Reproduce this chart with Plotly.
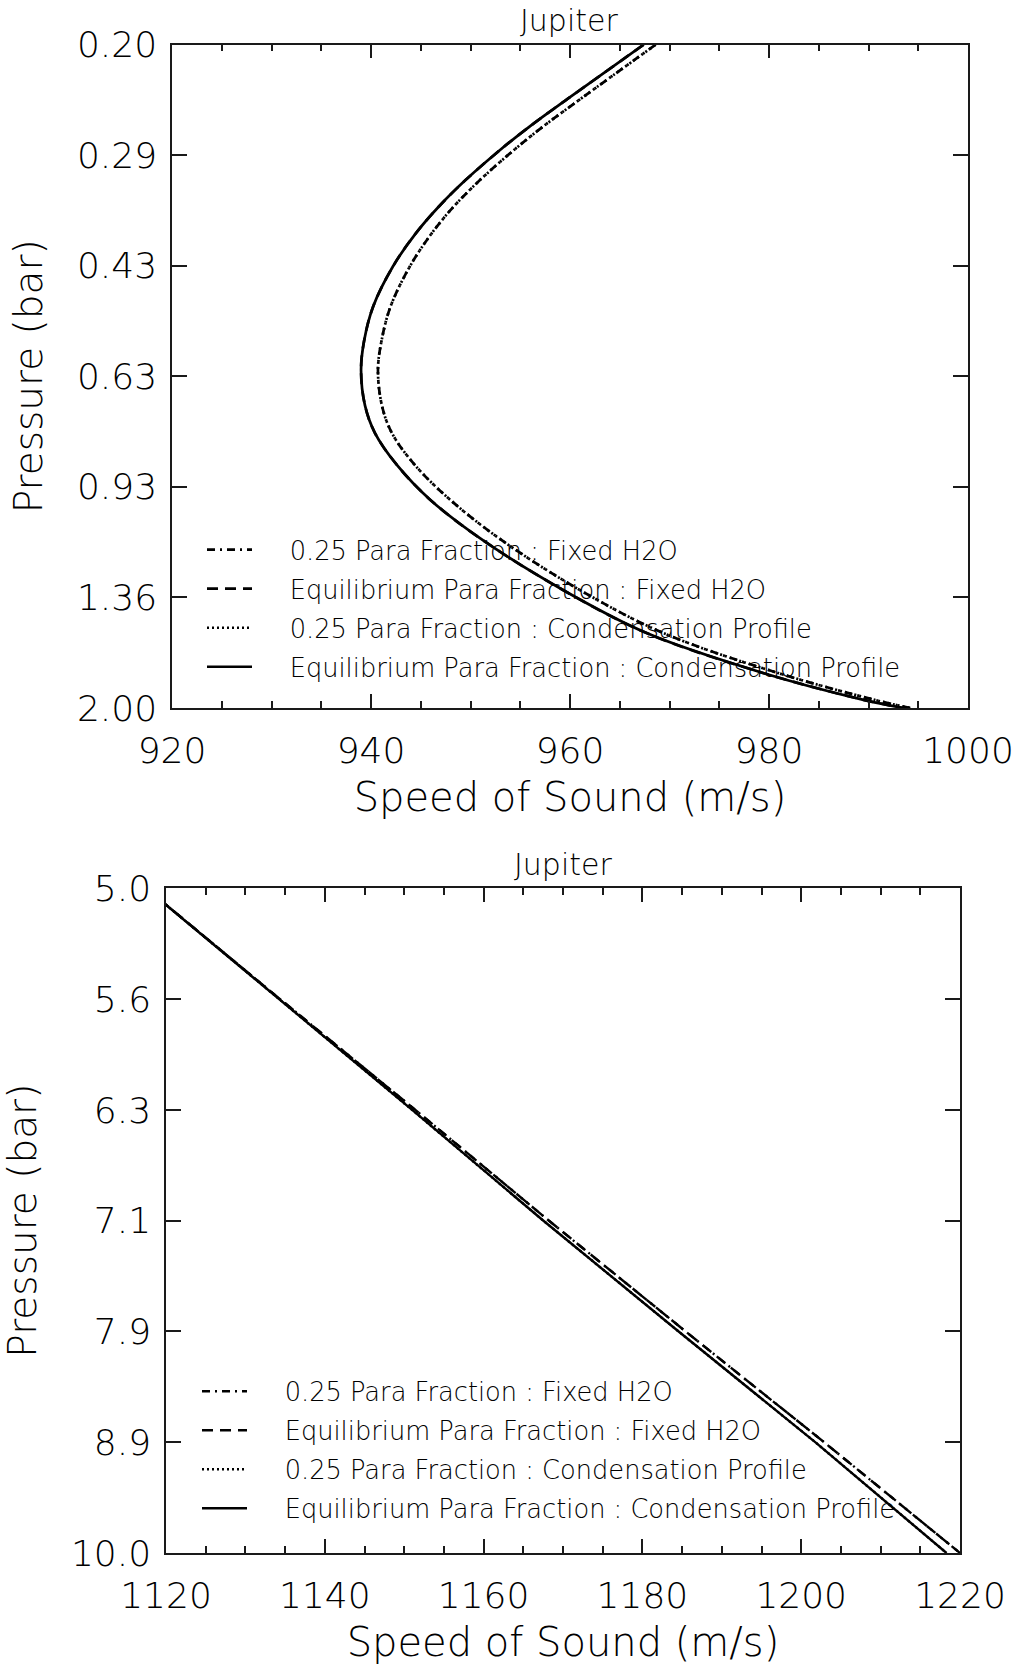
import numpy as np
import plotly.graph_objects as go

# ---------------- data ----------------
top_pressure = [0.200, 0.240, 0.266, 0.288, 0.320, 0.351, 0.385, 0.432, 0.497, 0.560,
                0.619, 0.700, 0.770, 0.860, 0.972, 1.116, 1.328, 1.542, 1.771, 1.944, 2.000]
top_speed_para025 = [968.6, 961.3, 957.25, 954.4, 950.95, 948.3, 946.1, 943.9, 941.95, 941.05,
                     940.7, 941.1, 942.1, 944.4, 948.0, 953.1, 961.0, 969.4, 980.9, 990.6, 994.2]
top_speed_equil = [967.4, 960.0, 955.9, 953.0, 949.5, 946.8, 944.5, 942.2, 940.2, 939.3,
                   939.0, 939.4, 940.4, 942.6, 946.0, 951.2, 959.3, 967.7, 979.4, 989.5, 993.5]

bot_pressure = [5.00, 5.61, 6.30, 7.07, 7.94, 8.91, 10.00]
bot_speed_fixed = [1117.5, 1134.3, 1151.4, 1168.2, 1185.5, 1202.9, 1220.0]
bot_speed_cond = [1117.5, 1134.2, 1151.0, 1167.5, 1184.6, 1201.8, 1218.3]

series_names = ["0.25 Para Fraction : Fixed H2O",
                "Equilibrium Para Fraction : Fixed H2O",
                "0.25 Para Fraction : Condensation Profile",
                "Equilibrium Para Fraction : Condensation Profile"]
series_dash = ["8px,5px,2px,5px", "11px,7px", "2px,3px", "solid"]

top_x_ticks = [920, 940, 960, 980, 1000]
top_y_ticks = [0.20, 0.2936, 0.4309, 0.6325, 0.9283, 1.3626, 2.00]
top_y_labels = ["0.20", "0.29", "0.43", "0.63", "0.93", "1.36", "2.00"]

bot_x_ticks = [1120, 1140, 1160, 1180, 1200, 1220]
bot_y_ticks = [5.0, 5.612, 6.300, 7.071, 7.937, 8.909, 10.0]
bot_y_labels = ["5.0", "5.6", "6.3", "7.1", "7.9", "8.9", "10.0"]

title_text = "Jupiter"
x_title = "Speed of Sound (m/s)"
y_title = "Pressure (bar)"

# ---------------- figure ----------------
W, H = 1018, 1666
FONT = "DejaVu Sans"
WEIGHT = 200
INK = "#000"
AXC = "#1a1a1a"
fig = go.Figure()

top_curves = [top_speed_para025, top_speed_equil, top_speed_para025, top_speed_equil]
bot_curves = [bot_speed_fixed, bot_speed_fixed, bot_speed_cond, bot_speed_cond]
draw_order = [2, 1, 0, 3]
pad = "\u00a0\u00a0\u00a0\u00a0"

for i in draw_order:
    fig.add_trace(go.Scatter(
        x=top_curves[i], y=top_pressure, mode="lines", name=pad + series_names[i],
        line=dict(color="black", width=2.7, dash=series_dash[i], shape="spline", smoothing=1.0),
        xaxis="x", yaxis="y", legend="legend", legendrank=i + 1,
        legendgroup="t%d" % i, showlegend=True))
for i in draw_order:
    fig.add_trace(go.Scatter(
        x=bot_curves[i], y=bot_pressure, mode="lines", name=pad + series_names[i],
        line=dict(color="black", width=2.4, dash=series_dash[i]),
        xaxis="x2", yaxis="y2", legend="legend2", legendrank=i + 1,
        legendgroup="b%d" % i, showlegend=True))

def px_x(v):
    return v / W

def px_y(v):
    return 1 - v / H

def fnt(size):
    return dict(family=FONT, size=size, color=INK, weight=WEIGHT)

axis_common = dict(showline=True, linecolor=AXC, linewidth=1.5, mirror="allticks",
                   ticks="inside", tickcolor=AXC, tickwidth=1.5, showgrid=False,
                   zeroline=False, tickfont=fnt(36), automargin=False)

fig.update_layout(
    width=W, height=H, margin=dict(l=0, r=0, t=0, b=0),
    paper_bgcolor="white", plot_bgcolor="white",
    font=fnt(24),
    xaxis=dict(domain=[px_x(172), px_x(968)], anchor="y", range=[920, 1000],
               tickvals=top_x_ticks, ticklen=14, ticklabelstandoff=10,
               minor=dict(dtick=5, tick0=920, ticklen=7, ticks="inside", tickcolor=AXC, tickwidth=1.5),
               title=dict(text=x_title, font=fnt(40), standoff=13),
               **axis_common),
    yaxis=dict(domain=[px_y(708), px_y(44.7)], anchor="x", type="log",
               range=[np.log10(2.0), np.log10(0.2)],
               tickvals=top_y_ticks, ticktext=top_y_labels, ticklen=15, ticklabelstandoff=6,
               title=dict(text=y_title, font=fnt(39), standoff=22),
               **axis_common),
    xaxis2=dict(domain=[px_x(166), px_x(960)], anchor="y2", range=[1120, 1220],
                tickvals=bot_x_ticks, ticklen=14, ticklabelstandoff=10,
                minor=dict(dtick=5, tick0=1120, ticklen=7, ticks="inside", tickcolor=AXC, tickwidth=1.5),
                title=dict(text=x_title, font=fnt(40), standoff=13),
                **axis_common),
    yaxis2=dict(domain=[px_y(1553), px_y(888.3)], anchor="x2", type="log",
                range=[np.log10(10.0), np.log10(5.0)],
                tickvals=bot_y_ticks, ticktext=bot_y_labels, ticklen=15, ticklabelstandoff=6,
                title=dict(text=y_title, font=fnt(39), standoff=22),
                **axis_common),
    legend=dict(x=px_x(202), y=px_y(526.5), xanchor="left", yanchor="top",
                bgcolor="rgba(0,0,0,0)", itemwidth=45, tracegroupgap=2.6,
                font=fnt(25.7), itemclick=False),
    legend2=dict(x=px_x(197), y=px_y(1368), xanchor="left", yanchor="top",
                 bgcolor="rgba(0,0,0,0)", itemwidth=45, tracegroupgap=2.6,
                 font=fnt(25.7), itemclick=False),
    annotations=[
        dict(text=title_text, x=px_x(569), y=px_y(21), xref="paper", yref="paper",
             xanchor="center", yanchor="middle", showarrow=False, font=fnt(30)),
        dict(text=title_text, x=px_x(563), y=px_y(864), xref="paper", yref="paper",
             xanchor="center", yanchor="middle", showarrow=False, font=fnt(30)),
    ],
)

fig.write_html("out.html")
